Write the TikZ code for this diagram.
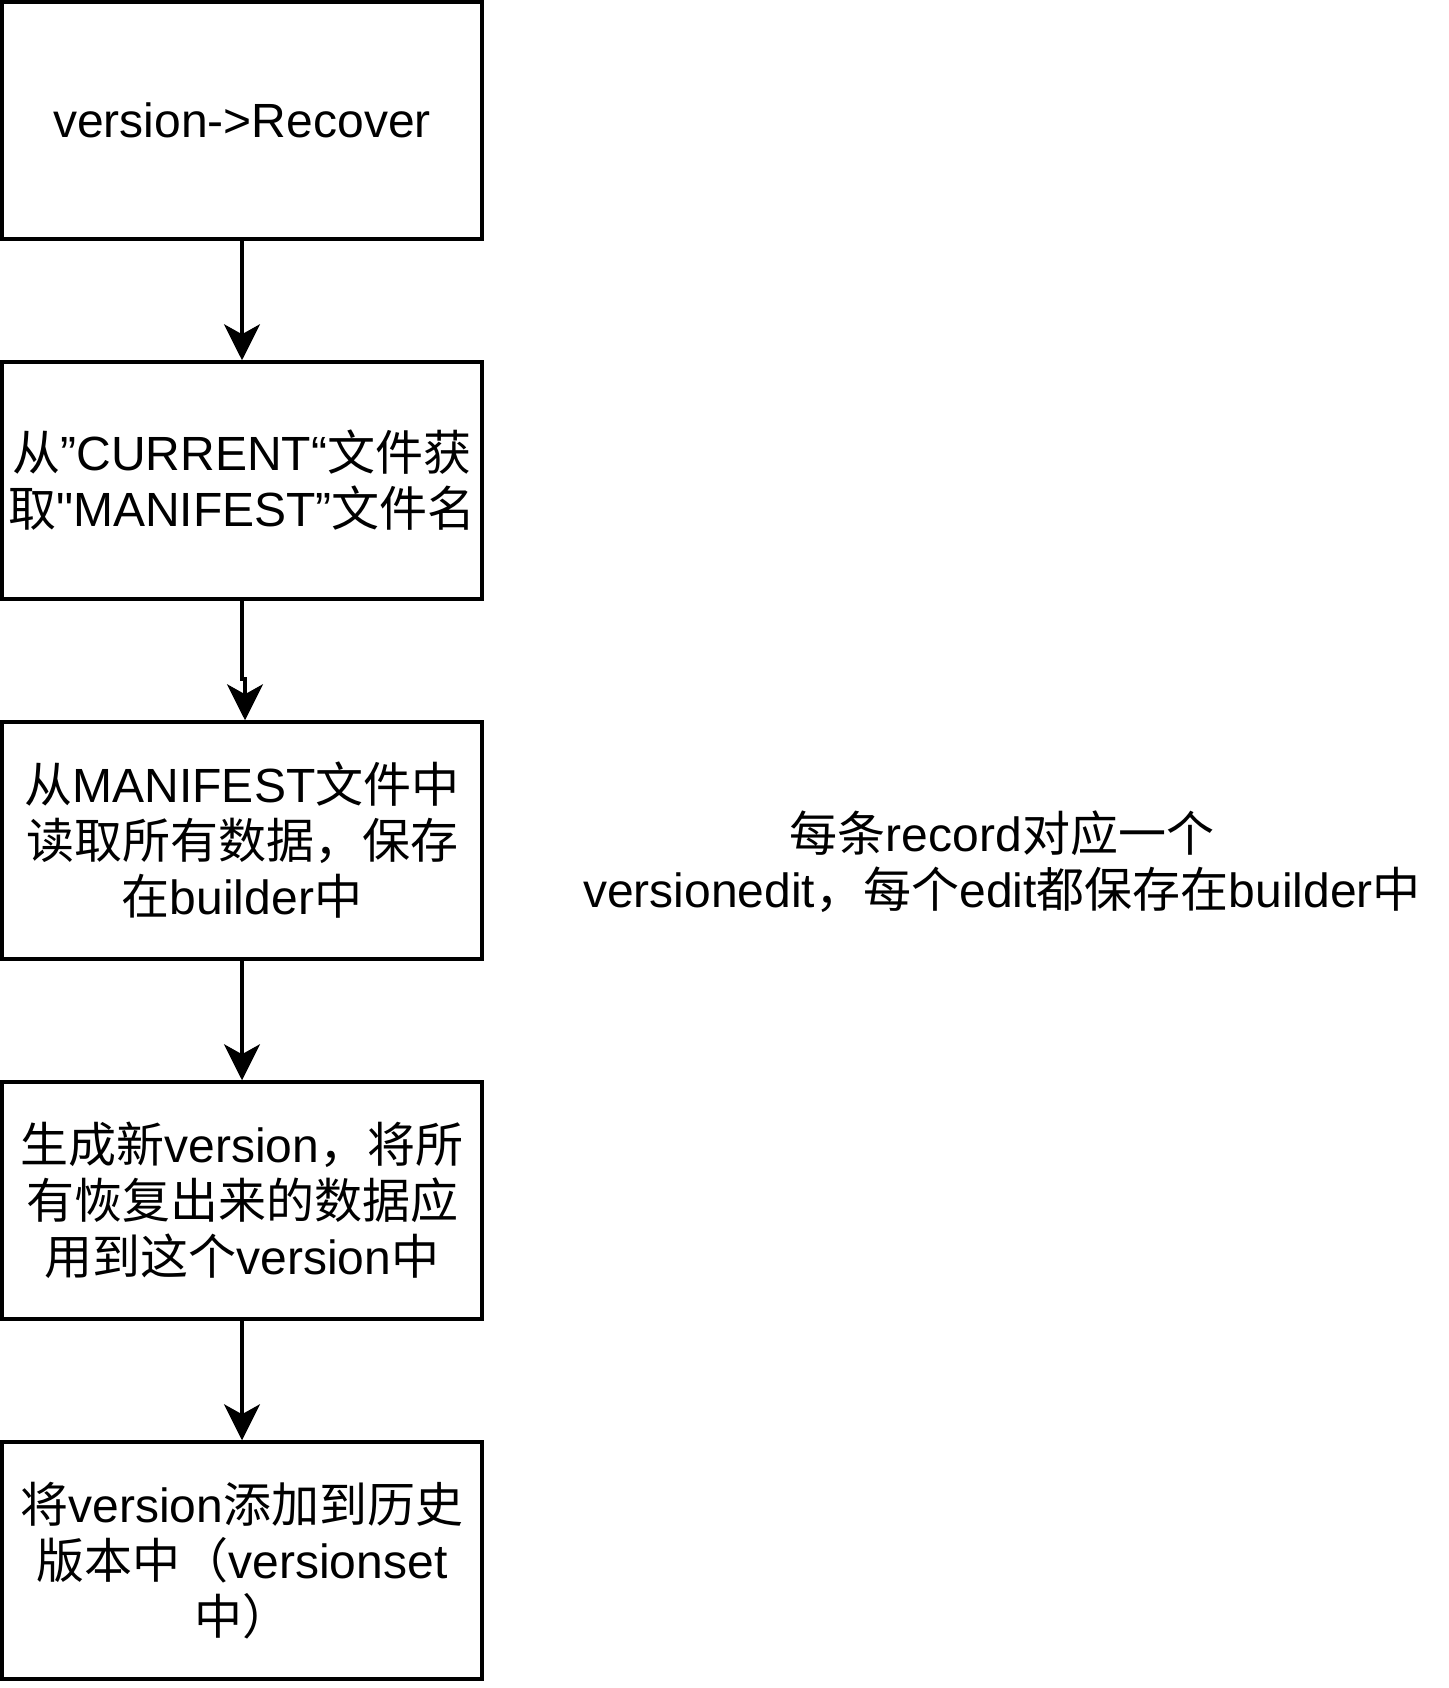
\documentclass[tikz,border=0pt]{standalone}
\usepackage{fontspec}
\setmainfont{Liberation Sans}[Ligatures=TeXOff]
\newfontfamily\cjk{Noto Sans CJK SC}
\newcommand{\zh}[1]{{\cjk #1}}
\usetikzlibrary{arrows.meta}

\begin{document}
\begin{tikzpicture}[x=1pt,y=-1pt,node distance=360pt,
  >={Stealth[length=36pt,width=36pt,inset=10pt]},
  stepbox/.style={draw,line width=3.5pt,minimum width=480pt,minimum height=237pt,
    inner sep=0pt,align=center,font=\fontsize{48}{56}\selectfont},
  note/.style={align=center,font=\fontsize{48}{56}\selectfont}]
\useasboundingbox (0,0) rectangle (1448,1688);

\node[stepbox] (b1) at (242,120.5) {version->Recover};
\node[stepbox,below of = b1] (b2) {\zh{从}”CURRENT“\zh{文件获}\\\zh{取}"MANIFEST”\zh{文件名}};
\node[stepbox,below of = b2] (b3) {\zh{从}MANIFEST\zh{文件中}\\\zh{读取所有数据，保存}\\\zh{在}builder\zh{中}};
\node[stepbox,below of = b3] (b4) {\zh{生成新}version\zh{，将所}\\\zh{有恢复出来的数据应}\\\zh{用到这个}version\zh{中}};
\node[stepbox,below of = b4] (b5) {\zh{将}version\zh{添加到历史}\\\zh{版本中（}versionset\\\zh{中）}};

\node[note] (n1) at (1002,862) {\zh{每条}record\zh{对应一个}\\versionedit\zh{，每个}edit\zh{都保存在}builder\zh{中}};

\draw [->,line width=3.5pt] (b1) -- (b2);
\draw [->,line width=3.5pt] (b2.south) -- ++(0,78) -| ([xshift=3pt]b3.north);
\draw [->,line width=3.5pt] (b3) -- (b4);
\draw [->,line width=3.5pt] (b4) -- (b5);
    %
\end{tikzpicture}
\end{document}
